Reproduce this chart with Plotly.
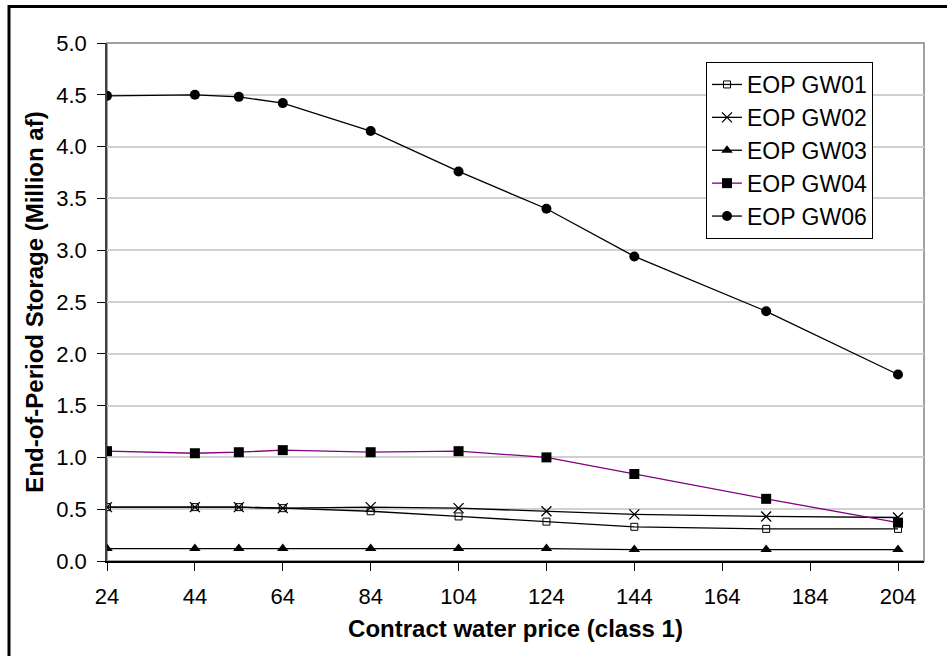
import plotly.graph_objects as go

price = [24, 44, 54, 64, 84, 104, 124, 144, 174, 204]
gw01 = [0.52, 0.52, 0.52, 0.51, 0.48, 0.43, 0.38, 0.33, 0.31, 0.31]
gw02 = [0.52, 0.52, 0.52, 0.51, 0.52, 0.51, 0.48, 0.45, 0.43, 0.42]
gw03 = [0.12, 0.12, 0.12, 0.12, 0.12, 0.12, 0.12, 0.11, 0.11, 0.11]
gw04 = [1.06, 1.04, 1.05, 1.07, 1.05, 1.06, 1.00, 0.84, 0.60, 0.37]
gw06 = [4.49, 4.50, 4.48, 4.42, 4.15, 3.76, 3.40, 2.94, 2.41, 1.80]
x_ticks = [24, 44, 64, 84, 104, 124, 144, 164, 184, 204]
y_ticks = [0.0, 0.5, 1.0, 1.5, 2.0, 2.5, 3.0, 3.5, 4.0, 4.5, 5.0]

W, H = 947, 656
L, R, T, B = 107, 924, 43, 561
FONT = "Liberation Sans, Arial, sans-serif"

series = [
    ("EOP GW01", gw01, "#000000", dict(symbol="square-open", size=7, color="#000000", line=dict(width=1, color="#000000"))),
    ("EOP GW02", gw02, "#000000", dict(symbol="x-thin", size=10, color="#000000", line=dict(width=1.3, color="#000000"))),
    ("EOP GW03", gw03, "#000000", dict(symbol="triangle-up", size=10, color="#000000", line=dict(width=0))),
    ("EOP GW04", gw04, "#800080", dict(symbol="square", size=10, color="#000000", line=dict(width=0))),
    ("EOP GW06", gw06, "#000000", dict(symbol="circle", size=10, color="#000000", line=dict(width=0))),
]

fig = go.Figure()
for name, vals, lc, mk in series:
    fig.add_trace(go.Scatter(x=price, y=vals, name=name, mode="lines+markers",
                             line=dict(color=lc, width=1.3), marker=mk))

def px(xp):
    return (xp - L) / (R - L)

def py(yp):
    return (B - yp) / (B - T)

# outer chart border (only top/left visible in the picture)
fig.add_shape(type="rect", xref="paper", yref="paper",
              x0=px(9), x1=px(970), y0=py(680), y1=py(6.5),
              line=dict(color="#000000", width=3), fillcolor="rgba(0,0,0,0)", layer="above")
# plot area border
fig.add_shape(type="rect", xref="paper", yref="paper", x0=0, x1=1, y0=0, y1=1,
              line=dict(color="#a0a0a0", width=2), fillcolor="rgba(0,0,0,0)", layer="below")

fig.update_layout(
    width=W, height=H,
    margin=dict(l=L, r=W - R, t=T, b=H - B, pad=0),
    paper_bgcolor="white", plot_bgcolor="white",
    font=dict(family=FONT, size=22, color="#000000"),
    showlegend=True,
    legend=dict(x=px(706), y=py(62), xanchor="left", yanchor="top",
                bgcolor="white", bordercolor="#000000", borderwidth=1,
                font=dict(family=FONT, size=23, color="#000000"),
                itemwidth=30, tracegroupgap=0),
)
fig.update_xaxes(range=[24, 24 + (R - L) / ((898 - L) / 180)],
                 tickvals=x_ticks, ticktext=[str(v) for v in x_ticks],
                 showgrid=False, zeroline=False,
                 showline=True, linecolor="#000000", linewidth=1.5,
                 ticks="outside", ticklen=8, tickcolor="#000000", tickwidth=1,
                 ticklabelstandoff=7,
                 tickfont=dict(family=FONT, size=22),
                 title=dict(text="<b>Contract water price (class 1)</b>",
                            font=dict(family=FONT, size=24), standoff=12))
fig.update_yaxes(range=[0, 5], tickvals=y_ticks, ticktext=[f"{v:.1f}" for v in y_ticks],
                 showgrid=True, gridcolor="#d0d0d0", gridwidth=1.5, zeroline=False,
                 showline=True, linecolor="#404040", linewidth=1.5,
                 ticks="outside", ticklen=8, tickcolor="#000000", tickwidth=1,
                 ticklabelstandoff=6,
                 tickfont=dict(family=FONT, size=22),
                 title=dict(text="<b>End-of-Period Storage (Million af)</b>",
                            font=dict(family=FONT, size=24), standoff=6))

fig.write_html("out.html")
